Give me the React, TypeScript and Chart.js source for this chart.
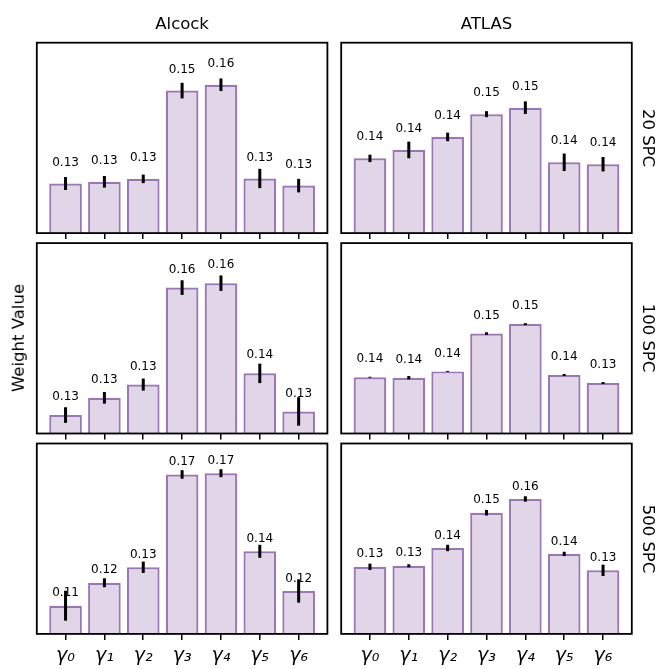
import React, { useEffect, useRef } from 'react';
import { Chart, registerables } from 'chart.js';
Chart.register(...registerables);

// ---------- data ----------
const categories = ['γ₀', 'γ₁', 'γ₂', 'γ₃', 'γ₄', 'γ₅', 'γ₆'];
const datasetNames = ['Alcock', 'ATLAS'];
const spcLevels = ['20 SPC', '100 SPC', '500 SPC'];
const yAxisTitle = 'Weight Value';

const alcock20 = [0.1327, 0.1331, 0.1338, 0.1548, 0.1562, 0.1339, 0.1322];
const alcock20Err = [0.00155, 0.00138, 0.00102, 0.00186, 0.0015, 0.0023, 0.00162];
const atlas20 = [0.1407, 0.142, 0.144, 0.1475, 0.1485, 0.1401, 0.1398];
const atlas20Err = [0.00057, 0.00128, 0.00066, 0.00046, 0.00097, 0.00134, 0.00111];

const alcock100 = [0.1261, 0.1304, 0.1337, 0.1579, 0.159, 0.1365, 0.127];
const alcock100Err = [0.00195, 0.00145, 0.0015, 0.00183, 0.00193, 0.00243, 0.00355];
const atlas100 = [0.1358, 0.1357, 0.1371, 0.1455, 0.1476, 0.1363, 0.1345];
const atlas100Err = [0.00011, 0.00038, 0.0001, 0.00029, 0.00022, 0.00022, 0.00022];

const alcock500 = [0.1141, 0.1233, 0.1295, 0.1667, 0.1672, 0.1359, 0.12];
const alcock500Err = [0.006, 0.0018, 0.00228, 0.00172, 0.0016, 0.0026, 0.00468];
const atlas500 = [0.1322, 0.1326, 0.1392, 0.1523, 0.1574, 0.137, 0.1309];
const atlas500Err = [0.00119, 0.00056, 0.00119, 0.00104, 0.001, 0.00081, 0.00211];

// y-axis ranges [min, max] per row
const alcockYRange = [
  [0.1209, 0.1662],
  [0.1215, 0.169],
  [0.1028, 0.1791],
];
const atlasYRange = [
  [0.1292, 0.1585],
  [0.1233, 0.1656],
  [0.1073, 0.178],
];

const alcockValues = [alcock20, alcock100, alcock500];
const alcockErrors = [alcock20Err, alcock100Err, alcock500Err];
const atlasValues = [atlas20, atlas100, atlas500];
const atlasErrors = [atlas20Err, atlas100Err, atlas500Err];

// ---------- layout / style ----------
const W = 662;
const H = 669;
const COL_LEFT = [36.8, 341.2];
const PANEL_W = 290.6;
const ROW_TOP = [42.7, 243.1, 443.5];
const PANEL_H = 190.4;
const LABEL_GAP = [21, 18, 12.5];
const FILL = 'rgb(225, 213, 232)';
const EDGE = 'rgb(155, 118, 180)';
const FONT = '"DejaVu Sans", sans-serif';

function Panel({ row, col }: { row: number; col: number }) {
  const ref = useRef<HTMLCanvasElement>(null);
  useEffect(() => {
    const values = col === 0 ? alcockValues[row] : atlasValues[row];
    const errors = col === 0 ? alcockErrors[row] : atlasErrors[row];
    const yr = col === 0 ? alcockYRange[row] : atlasYRange[row];
    const axisH = row === 2 ? 35 : 10;
    const left = COL_LEFT[col];
    const top = ROW_TOP[row];
    const gap = LABEL_GAP[row];

    const decor = {
      id: 'decor' + row + col,
      afterDatasetsDraw(chart: any) {
        const ctx = chart.ctx;
        const ys = chart.scales.y;
        const meta = chart.getDatasetMeta(0);
        ctx.save();
        // error bars
        ctx.strokeStyle = 'black';
        ctx.lineWidth = 3;
        ctx.lineCap = 'butt';
        meta.data.forEach((el: any, i: number) => {
          const y1 = ys.getPixelForValue(values[i] + errors[i]);
          const y2 = ys.getPixelForValue(values[i] - errors[i]);
          ctx.beginPath();
          ctx.moveTo(el.x, y1);
          ctx.lineTo(el.x, Math.max(y2, y1 + 1));
          ctx.stroke();
        });
        // value labels
        ctx.fillStyle = 'black';
        ctx.font = '12px ' + FONT;
        ctx.textAlign = 'center';
        ctx.textBaseline = 'middle';
        meta.data.forEach((el: any, i: number) => {
          ctx.fillText(values[i].toFixed(2), el.x, el.y - gap);
        });
        ctx.restore();
      },
      afterDraw(chart: any) {
        const ctx = chart.ctx;
        const a = chart.chartArea;
        ctx.save();
        ctx.strokeStyle = 'black';
        ctx.lineWidth = 1.8;
        ctx.strokeRect(a.left, a.top, a.right - a.left, a.bottom - a.top);
        ctx.restore();
      },
    };

    const chart = new Chart(ref.current as HTMLCanvasElement, {
      type: 'bar',
      data: {
        datasets: [
          {
            data: values.map((v, i) => ({ x: i, y: v })),
            backgroundColor: FILL,
            borderColor: EDGE,
            borderWidth: 2.2,
            borderSkipped: 'start',
            barPercentage: 0.84,
            categoryPercentage: 1,
          } as any,
        ],
      },
      options: {
        responsive: false,
        animation: false,
        events: [],
        layout: {
          padding: {
            left: left,
            top: top,
            right: W - left - PANEL_W,
            bottom: H - top - PANEL_H - axisH,
          },
        },
        plugins: {
          legend: { display: false },
          tooltip: { enabled: false },
          title: { display: false },
        },
        scales: {
          x: {
            type: 'linear',
            min: -0.74,
            max: 6.74,
            offset: false,
            bounds: 'data',
            afterBuildTicks: (ax: any) => {
              ax.ticks = categories.map((_, i) => ({ value: i }));
            },
            afterFit: (ax: any) => {
              ax.height = axisH;
            },
            ticks: {
              display: row === 2,
              autoSkip: false,
              maxRotation: 0,
              padding: 5,
              color: 'black',
              font: { family: FONT, size: 19, style: 'italic' },
              callback: (v: any) => categories[Math.round(Number(v))],
            },
            grid: {
              display: true,
              offset: false,
              drawOnChartArea: false,
              drawTicks: true,
              tickLength: 6,
              tickWidth: 1.5,
              tickColor: 'black',
              color: 'black',
              lineWidth: 1.5,
            },
            border: { display: false },
          } as any,
          y: {
            display: false,
            min: yr[0],
            max: yr[1],
          },
        },
      },
      plugins: [decor],
    });
    return () => chart.destroy();
  }, [row, col]);
  return (
    <canvas
      ref={ref}
      width={W}
      height={H}
      style={{ position: 'absolute', left: 0, top: 0, width: W, height: H }}
    />
  );
}

const textBase: React.CSSProperties = {
  position: 'absolute',
  fontFamily: FONT,
  fontSize: 16.5,
  color: 'black',
  whiteSpace: 'nowrap',
  lineHeight: 1,
};

export default function App() {
  const panels: { row: number; col: number }[] = [];
  for (let r = 0; r < 3; r++) for (let c = 0; c < 2; c++) panels.push({ row: r, col: c });
  return (
    <div
      style={{
        position: 'fixed',
        left: 0,
        top: 0,
        width: W,
        height: H,
        background: 'white',
        overflow: 'hidden',
      }}
    >
      {panels.map((p) => (
        <Panel key={p.row + '-' + p.col} row={p.row} col={p.col} />
      ))}
      {datasetNames.map((name, c) => (
        <div
          key={name}
          style={{
            ...textBase,
            left: COL_LEFT[c] + PANEL_W / 2,
            top: 24,
            transform: 'translate(-50%, -50%)',
          }}
        >
          {name}
        </div>
      ))}
      {spcLevels.map((s, r) => (
        <div
          key={s}
          style={{
            ...textBase,
            left: 648,
            top: ROW_TOP[r] + PANEL_H / 2,
            transform: 'translate(-50%, -50%) rotate(90deg)',
          }}
        >
          {s}
        </div>
      ))}
      <div
        style={{
          ...textBase,
          left: 19,
          top: ROW_TOP[1] + PANEL_H / 2,
          transform: 'translate(-50%, -50%) rotate(-90deg)',
        }}
      >
        {yAxisTitle}
      </div>
    </div>
  );
}
